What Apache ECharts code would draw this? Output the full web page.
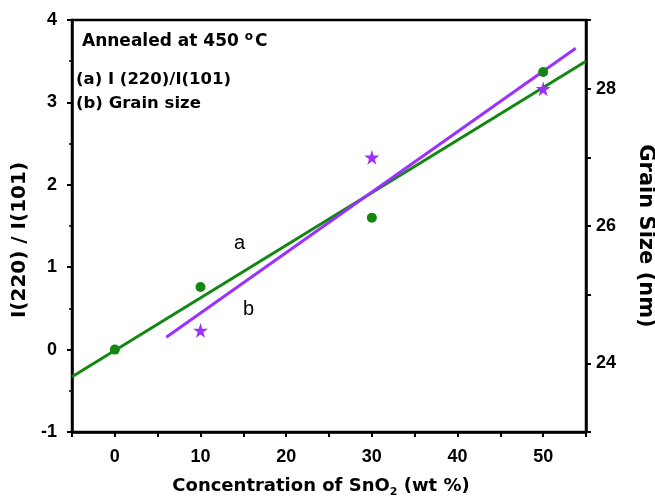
<!DOCTYPE html>
<html>
<head>
<meta charset="utf-8">
<script src="https://cdn.jsdelivr.net/npm/echarts@6/dist/echarts.min.js"></script>
<style>
  html, body { margin: 0; padding: 0; background: #fff; }
  #chart { width: 655px; height: 496px; }
</style>
</head>
<body>
<div id="chart"></div>
<script>
var ratioX = [0, 10, 30, 50];
var ratioY = [0, 0.76, 1.60, 3.37];          // I(220)/I(101)
var grainX = [10, 30, 50];
var grainY = [24.48, 27.0, 28.0];            // grain size (nm)

// end points of the fitted lines as drawn
var fitAX = [-5, 55];
var fitAY = [-0.33, 3.50];
var fitBX = [6, 53.8];
var fitBY = [24.38, 28.59];

var GREEN = '#128812';
var PURPLE = '#9b30ff';
var FONT = 'Liberation Sans, Arial, sans-serif';
var WIDE = 'DejaVu Sans, sans-serif';
var STAR = 'path://M50,0 L61,35 L98,35 L68,57 L79,91 L50,70 L21,91 L32,57 L2,35 L39,35 Z';

function pairs(xs, ys) {
    return xs.map(function (x, i) { return [x, ys[i]]; });
}

var myChart = echarts.init(document.getElementById('chart'));

var axisCommon = {
    axisLine: { show: true, onZero: false, lineStyle: { color: '#000', width: 2.5 } },
    axisTick: { show: true, inside: false, length: 5, lineStyle: { color: '#000', width: 2 } },
    splitLine: { show: false },
    axisLabel: { color: '#000', fontFamily: FONT, fontWeight: 'bold', fontSize: 18 }
};

var titleStyle = { color: '#000', fontFamily: WIDE, fontSize: 18, fontWeight: 'bold' };

var option = {
    backgroundColor: '#fff',
    animation: false,
    grid: {
        left: 72, right: 69, top: 20, bottom: 64,
        outerBoundsMode: 'none',
        show: true, borderColor: '#000', borderWidth: 2.5
    },
    xAxis: Object.assign({}, axisCommon, {
        type: 'value',
        min: -5, max: 55, interval: 5,
        axisLabel: Object.assign({}, axisCommon.axisLabel, {
            margin: 16,
            formatter: function (v) { return v % 10 === 0 ? String(v) : ''; }
        }),
        name: 'Concentration of SnO{sub|2} (wt %)',
        nameLocation: 'middle',
        nameGap: 43,
        nameTextStyle: Object.assign({}, titleStyle, {
            padding: [0, 16, 0, 0],
            rich: {
                sub: { fontSize: 11, fontWeight: 'bold', fontFamily: WIDE, color: '#000', verticalAlign: 'bottom', padding: [12, 0, 0, 0] }
            }
        })
    }),
    yAxis: [
        Object.assign({}, axisCommon, {
            type: 'value',
            position: 'left',
            min: -1, max: 4, interval: 1,
            minorTick: { show: true, splitNumber: 2, length: 3, lineStyle: { color: '#000', width: 1.5 } },
            minorSplitLine: { show: false },
            axisLabel: Object.assign({}, axisCommon.axisLabel, { margin: 15 }),
            name: 'I(220) / I(101)',
            nameLocation: 'middle',
            nameGap: 34,
            nameTextStyle: Object.assign({}, titleStyle, { fontSize: 20, padding: [0, 0, 0, -28] })
        }),
        Object.assign({}, axisCommon, {
            type: 'value',
            position: 'right',
            min: 23, max: 29, interval: 1,
            axisLabel: Object.assign({}, axisCommon.axisLabel, {
                margin: 10,
                formatter: function (v) { return v % 2 === 0 ? String(v) : ''; }
            }),
            name: 'Grain Size (nm)',
            nameLocation: 'middle',
            nameRotate: -90,
            nameGap: 49,
            nameTextStyle: Object.assign({}, titleStyle, { fontSize: 21, padding: [0, 0, 0, 20] })
        })
    ],
    series: [
        {
            name: 'fit a', type: 'line', yAxisIndex: 0,
            data: pairs(fitAX, fitAY),
            showSymbol: false, symbol: 'none',
            lineStyle: { color: GREEN, width: 3 }, z: 2
        },
        {
            name: 'fit b', type: 'line', yAxisIndex: 1,
            data: pairs(fitBX, fitBY),
            showSymbol: false, symbol: 'none',
            lineStyle: { color: PURPLE, width: 3 }, z: 3
        },
        {
            name: 'I(220)/I(101)', type: 'scatter', yAxisIndex: 0,
            data: pairs(ratioX, ratioY),
            symbol: 'circle', symbolSize: 10,
            itemStyle: { color: GREEN, opacity: 1 }, z: 4
        },
        {
            name: 'Grain size', type: 'scatter', yAxisIndex: 1,
            data: pairs(grainX, grainY),
            symbol: STAR, symbolSize: 15,
            itemStyle: { color: PURPLE, opacity: 1 }, z: 4
        }
    ],
    graphic: [
        {
            type: 'text', left: 82, top: 31,
            style: { text: 'Annealed at 450 {sup|o}C', fill: '#000', font: 'bold 17px ' + WIDE,
                rich: { sup: { fontSize: 12, fontWeight: 'bold', fontFamily: WIDE, verticalAlign: 'top', padding: [0, 2, 9, 0] } } }
        },
        {
            type: 'text', left: 76, top: 71,
            style: { text: '(a) I (220)/I(101)', fill: '#000', font: 'bold 16.5px ' + WIDE }
        },
        {
            type: 'text', left: 76, top: 95,
            style: { text: '(b) Grain size', fill: '#000', font: 'bold 16.5px ' + WIDE }
        },
        {
            type: 'text', left: 234, top: 233,
            style: { text: 'a', fill: '#000', font: '20px ' + FONT }
        },
        {
            type: 'text', left: 243, top: 299,
            style: { text: 'b', fill: '#000', font: '20px ' + FONT }
        }
    ]
};

myChart.setOption(option);
</script>
</body>
</html>
